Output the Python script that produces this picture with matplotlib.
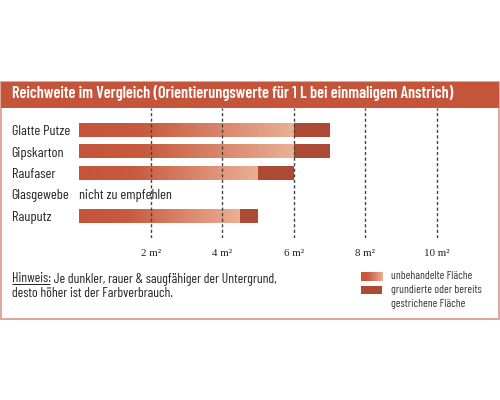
import matplotlib
matplotlib.use("Agg")
import matplotlib.pyplot as plt
import numpy as np
from matplotlib.colors import LinearSegmentedColormap
from matplotlib.patches import Rectangle

categories = ["Glatte Putze", "Gipskarton", "Raufaser", "Glasgewebe", "Rauputz"]
untreated = [6, 6, 5, None, 4.5]      # end of gradient part (unbehandelte Fläche)
primed = [7, 7, 6, None, 5]           # end of primed part (grundierte Fläche)
ticks = [2, 4, 6, 8, 10]
tick_labels = ["2 m²", "4 m²", "6 m²", "8 m²", "10 m²"]
title = "Reichweite im Vergleich (Orientierungswerte für 1 L bei einmaligem Anstrich)"
note_label = "nicht zu empfehlen"
hint_head = "Hinweis:"
hint_line1 = " Je dunkler, rauer & saugfähiger der Untergrund,"
hint_line2 = "desto höher ist der Farbverbrauch."
legend_labels = ["unbehandelte Fläche", "grundierte oder bereits", "gestrichene Fläche"]

W, H = 500, 400
fig = plt.figure(figsize=(5, 4), dpi=100)
renderer = fig.canvas.get_renderer()
bg = fig.add_axes([0, 0, 1, 1])
bg.set_xlim(0, W)
bg.set_ylim(H, 0)
bg.axis("off")

FAM = ["Barlow Condensed", "Roboto Condensed", "DejaVu Sans"]
SERIF = ["Liberation Serif", "DejaVu Serif"]
RED = "#c4553b"
DARK = "#ad4a36"
TXT = "#222222"


def width(t):
    return t.get_window_extent(renderer).width


def fit(t, target):
    t.set_fontsize(t.get_fontsize() * target / width(t))
    return t.get_fontsize()


# frame and title band
bg.add_patch(Rectangle((1, 82), 497.5, 236.5, facecolor="white", edgecolor="#d9a092", lw=1.3, zorder=1))
bg.add_patch(Rectangle((0.5, 82), 498.5, 25.5, facecolor=RED, edgecolor="none", zorder=2))
tt = bg.text(12.3, 97.7, title, color="white", fontsize=10, fontweight="semibold", va="baseline", ha="left",
             zorder=3, family=FAM)
fit(tt, 442)

# data axes
x0, pxu = 79.3, 35.75
ax = fig.add_axes([x0 / W, 1 - 238 / H, 11 * pxu / W, 130 / H])
ax.set_xlim(0, 11)
ax.set_ylim(5.02, -1.02)
ax.axis("off")

cmap = LinearSegmentedColormap.from_list("g", [(0, "#c4553b"), (0.3, "#c75a3f"), (1, "#eab096")])
grad = np.linspace(0, 1, 256).reshape(1, -1)
h = 0.65

# label font size from the first label
probe = bg.text(12, 135, categories[0], fontsize=10, family=FAM, color=TXT)
lab_fs = fit(probe, 58.6)
probe.remove()

for i, (cat, u, p) in enumerate(zip(categories, untreated, primed)):
    yb = 130.3 + 21.4 * i + 4.8
    bg.text(11.7, yb, cat, ha="left", va="baseline", fontsize=lab_fs, color=TXT, family=FAM)
    if u is None:
        bg.text(79.3, yb, note_label, ha="left", va="baseline", fontsize=lab_fs, color=TXT, family=FAM)
        continue
    ax.imshow(grad, extent=[0, u, i + h / 2, i - h / 2], aspect="auto", cmap=cmap, zorder=2,
              interpolation="bilinear")
    ax.barh(i, p - u, left=u, height=h, color=DARK, zorder=2, linewidth=0)

probe = bg.text(0, 0, tick_labels[-1], fontsize=10, family=SERIF)
tick_fs = fit(probe, 25.5)
probe.remove()
for t, lab in zip(ticks, tick_labels):
    ax.axvline(t, color="#444444", lw=1.0, dashes=(2.3, 1.7), zorder=3)
    bg.text(x0 + t * pxu, 256, lab, ha="center", va="baseline", fontsize=tick_fs, family=SERIF, color=TXT)
ax.set_xlim(0, 11)
ax.set_ylim(5.02, -1.02)

# note
probe = bg.text(0, 0, hint_head + hint_line1, fontsize=10, family=FAM)
hint_fs = fit(probe, 267)
probe.remove()
th = bg.text(12.3, 282.5, hint_head, fontsize=hint_fs, color=TXT, va="baseline", ha="left", family=FAM)
hw = width(th)
bg.plot([12.3, 12.3 + hw - 1.0], [283.8, 283.8], color=TXT, lw=0.7, solid_capstyle="butt")
bg.text(12.3 + hw, 282.5, hint_line1, fontsize=hint_fs, color=TXT, va="baseline", ha="left", family=FAM)
bg.text(12.3, 297.4, hint_line2, fontsize=hint_fs, color=TXT, va="baseline", ha="left", family=FAM)

# legend
lg = fig.add_axes([361 / W, 1 - 280.7 / H, 21.3 / W, 8.7 / H])
lg.imshow(grad, aspect="auto", cmap=cmap, extent=[0, 1, 0, 1], interpolation="bilinear")
lg.axis("off")
bg.add_patch(Rectangle((361, 286), 21.3, 8.3, facecolor=DARK, edgecolor="none", zorder=3))
probe = bg.text(0, 0, legend_labels[1], fontsize=10, family=FAM)
leg_fs = fit(probe, 91)
probe.remove()
for lab, yb in zip(legend_labels, [279.3, 293.0, 306.7]):
    bg.text(390.7, yb, lab, fontsize=leg_fs, color="#333333", va="baseline", ha="left", family=FAM)

fig.savefig("out.png", dpi=100)
